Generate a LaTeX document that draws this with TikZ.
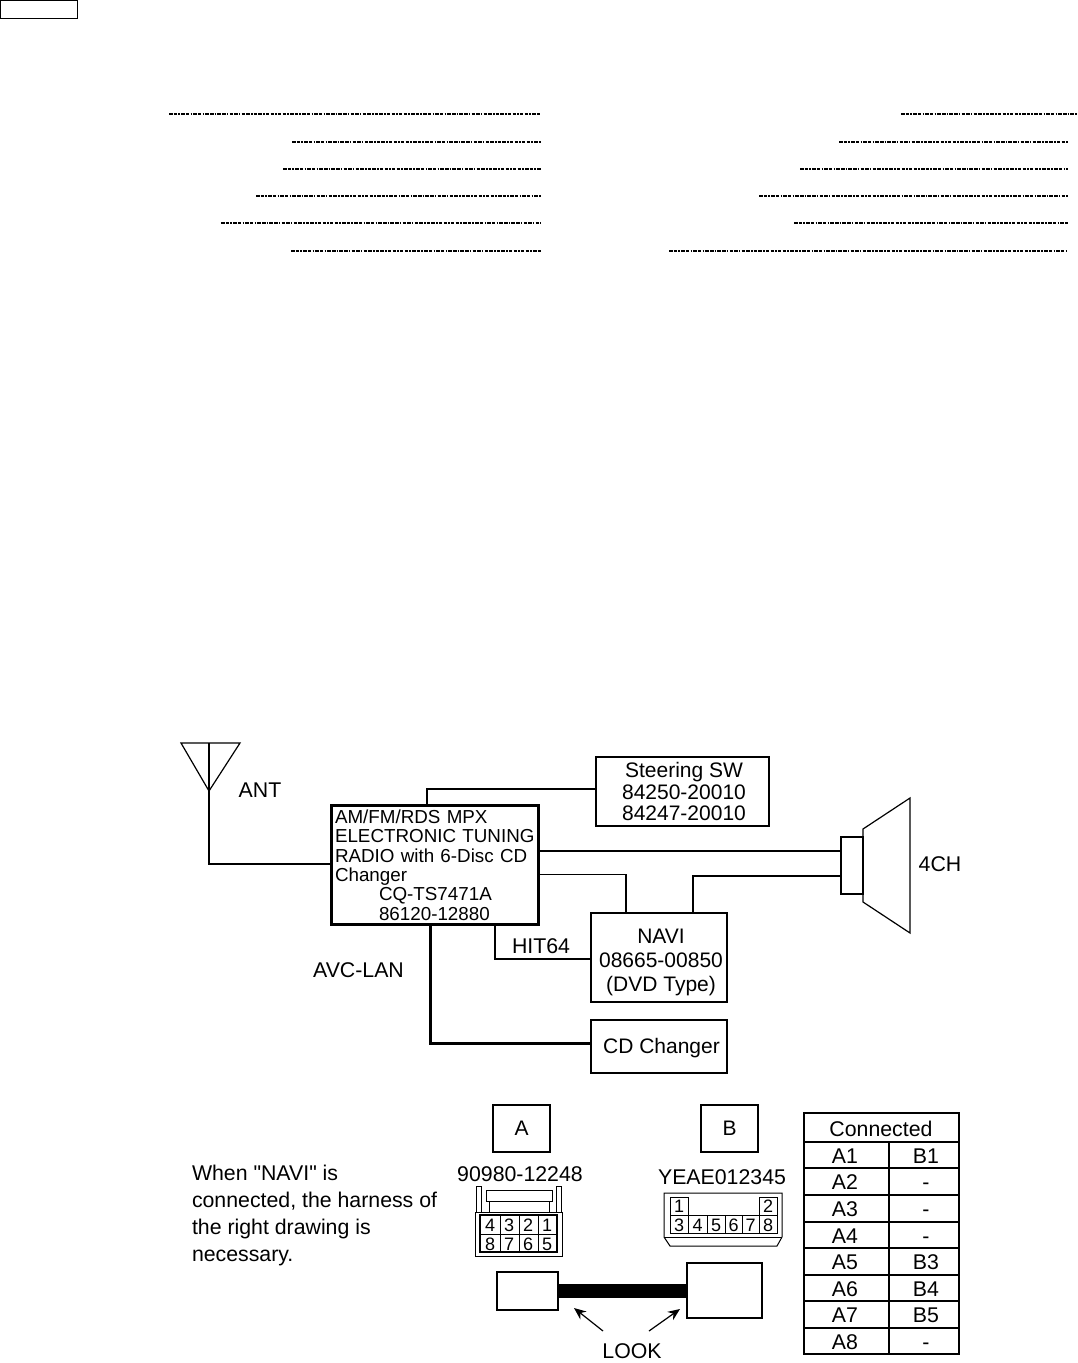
\documentclass[tikz,border=0pt]{standalone}
\usepackage{fontspec}
\setmainfont{Liberation Sans}
\newfontfamily\plainq{Liberation Sans}
\usetikzlibrary{arrows.meta}
\tikzset{
  thinl/.style={line width=1.1pt},
  medl/.style={line width=1.7pt},
  heavyl/.style={line width=3pt},
  boxn/.style={draw,line width=1.2pt,inner sep=0pt,outer sep=0pt,align=center,font=\fontsize{21}{22}\selectfont},
  lab/.style={inner sep=0pt,outer sep=0pt,font=\fontsize{21.3}{22}\selectfont},
  cell/.style={lab,anchor=base},
  pin/.style={inner sep=0pt,outer sep=0pt,anchor=base,font=\fontsize{18}{18}\selectfont},
  leader/.style={line width=1.5pt,dash pattern=on 3.5pt off 1.2pt on 3.5pt off 1.2pt on 1.5pt off 1.2pt},
  lookarrow/.style={line width=1.2pt,-{Stealth[length=12pt,width=10pt]}},
}
\begin{document}
\begin{tikzpicture}[x=1pt,y=-1pt]
\useasboundingbox (0,0) rectangle (1077,1363);
% top box
\node[draw,line width=1.4pt,minimum width=77.3pt,minimum height=18pt,inner sep=0pt,outer sep=0pt] (topbox) at (39,9.5) {};
% leaders
\foreach \n/\a/\b/\y in {l1/169/541/114,l2/292/541/142,l3/283/541/169,l4/256/541/196,l5/221/541/223,l6/291/541/251,
 r1/901/1077/114,r2/839/1068/142,r3/800/1068/169,r4/759/1068/196,r5/794/1068/223,r6/669/1068/251}{
  \coordinate (\n a) at (\a,\y); \coordinate (\n b) at (\b,\y);
  \draw[leader] (\n a) -- (\n b);
}
% boxes
\node[draw,heavyl,inner xsep=3.5pt,inner ysep=0pt,outer sep=0pt,text width=200pt,minimum height=119pt,align=left,font=\fontsize{18.8}{19.4}\selectfont] (radio) at (435,865)
 {AM/FM/RDS MPX\\ELECTRONIC TUNING\\RADIO with 6-Disc CD\\Changer\\\hspace*{44pt}CQ-TS7471A\\\hspace*{44pt}86120-12880};
\node[boxn,minimum width=173pt,minimum height=69pt] (steer) at (682.5,791.5) {\hspace*{3pt}Steering SW\\[-0.5pt]\hspace*{3pt}84250-20010\\[-0.5pt]\hspace*{3pt}84247-20010};
\node[boxn,minimum width=136pt,minimum height=89pt] (navi) at (659,957.5) {\rule{0pt}{24pt}\hspace*{4pt}NAVI\\[2pt]\hspace*{4pt}08665-00850\\[2pt]\hspace*{4pt}(DVD Type)};
\node[boxn,minimum width=136pt,minimum height=53pt] (cdc) at (659,1046.5) {\rule{0pt}{19pt}\hspace*{5pt}CD Changer};
\node[boxn,minimum width=22pt,minimum height=57pt] (spkbox) at (852,865.5) {};
% speaker cone
\coordinate (cone1) at (863,829); \coordinate (cone2) at (910,798); \coordinate (cone3) at (910,933); \coordinate (cone4) at (863,902);
\draw[line width=1.2pt] (cone1) -- (cone2) -- (cone3) -- (cone4) -- cycle;
% antenna
\coordinate (antL) at (181,743); \coordinate (antR) at (240,743); \coordinate (antT) at (209,791); \coordinate (antM) at (209,743); \coordinate (antB) at (209,864);
\draw[line width=1.2pt,line join=miter] (antL) -- (antR) -- (antT) -- cycle;
\draw[thinl] (antM) -- (antB) -- (radio.west |- antB);
% connectors
\coordinate (cs) at (427,789);
\draw[thinl] (radio.north -| cs) -- (cs) -- (steer.west |- cs);
\coordinate (cm) at (0,851);
\draw[medl] (radio.east |- cm) -- (spkbox.west |- cm);
\coordinate (cn) at (626,874.5);
\draw[medl] (radio.east |- cn) -- (cn) -- (navi.north -| cn);
\coordinate (cp) at (693,876);
\draw[medl] (navi.north -| cp) -- (cp) -- (spkbox.west |- cp);
\coordinate (ch) at (495,959);
\draw[thinl] (radio.south -| ch) -- (ch) -- (navi.west |- ch);
\coordinate (cl) at (430,1043);
\draw[heavyl] (radio.south -| cl) -- (cl) -- (cdc.west |- cl);
% labels
\node[lab] (tant) at (260,790.5) {ANT};
\node[lab] (tavc) at (358.5,970) {AVC-LAN};
\node[lab] (thit) at (541,946) {HIT64};
\node[lab] (t4ch) at (940,864.5) {4CH};
\node[lab,anchor=base west] (w1) at (192,1180.5) {When {\plainq"}NAVI{\plainq"} is};
\node[lab,anchor=base west] (w2) at (192,1207.5) {connected, the harness of};
\node[lab,anchor=base west] (w3) at (192,1234.5) {the right drawing is};
\node[lab,anchor=base west] (w4) at (192,1261.5) {necessary.};
% A, B
\node[boxn,minimum width=57pt,minimum height=47pt] (boxA) at (521.5,1128.5) {A};
\node[boxn,minimum width=57pt,minimum height=47pt] (boxB) at (729.5,1128.5) {B};
\node[lab] (pa) at (520,1174.5) {90980-12248};
\node[lab] (pb) at (722,1177) {YEAE012345};
% connector A
\draw[line width=1pt] (476,1212) -- (476,1186) -- (481,1186) -- (481,1212);
\draw[line width=1pt] (556,1212) -- (556,1186) -- (561,1186) -- (561,1212);
\draw[line width=1pt] (486,1190) rectangle (552,1201);
\draw[line width=1pt] (489,1201) -- (489,1212) (549,1201) -- (549,1212);
\draw[line width=1pt] (475,1212) rectangle (562,1256);
\draw[line width=1.2pt] (480,1215) rectangle (557,1252);
\draw[line width=1pt] (480,1234) -- (557,1234) (500,1215) -- (500,1252) (519,1215) -- (519,1252) (538,1215) -- (538,1252);
\foreach \t/\x/\y in {4/490/1231.5,3/509/1231.5,2/528/1231.5,1/547/1231.5,8/490/1250,7/509/1250,6/528/1250,5/547/1250}
  \node[pin] (pA\t) at (\x,\y) {\t};
% connector B
\draw[line width=1pt] (664,1193) -- (782,1193) -- (782,1237) -- (777,1246) -- (670,1246) -- (664,1237) -- cycle;
\draw[line width=1pt] (664,1237) -- (782,1237);
\draw[line width=1pt] (670,1197) rectangle (688,1215);
\draw[line width=1pt] (759,1197) rectangle (777,1215);
\draw[line width=1pt] (670,1215) rectangle (777,1233);
\draw[line width=1pt] (688,1215) -- (688,1233) (707,1215) -- (707,1233) (725,1215) -- (725,1233) (742,1215) -- (742,1233) (759,1215) -- (759,1233);
\foreach \t/\x/\y in {1/679/1212.5,2/768/1212.5,3/679/1231,4/697.5/1231,5/716/1231,6/733.5/1231,7/750.5/1231,8/768/1231}
  \node[pin] (pB\t) at (\x,\y) {\t};
% harness
\node[draw,line width=1.2pt,minimum width=61pt,minimum height=38pt,inner sep=0pt,outer sep=0pt] (hl) at (527.5,1291) {};
\node[draw,line width=1.2pt,minimum width=75pt,minimum height=55pt,inner sep=0pt,outer sep=0pt] (hr) at (724.5,1290.5) {};
\coordinate (hy) at (0,1291);
\draw[line width=14pt] (hl.east |- hy) -- (hr.west |- hy);
\node[lab] (look) at (632,1351) {LOOK};
\coordinate (a1) at (603,1331); \coordinate (a1t) at (574,1308);
\coordinate (a2) at (649,1331); \coordinate (a2t) at (680,1309);
\draw[lookarrow] (a1) -- (a1t);
\draw[lookarrow] (a2) -- (a2t);
% table
\draw[line width=1.4pt] (804,1142) -- (959,1142);
\foreach \y in {1168,1195,1222,1248,1275,1301,1328} \draw[line width=1.4pt] (804,\y) -- (959,\y);
\draw[line width=1.4pt] (889,1142) -- (889,1354);
\node[draw,line width=2.6pt,minimum width=155pt,minimum height=241pt,inner sep=0pt,outer sep=0pt] (tbl) at (881.5,1233.5) {};
\node[lab] (thead) at (881,1128.5) {Connected};
\foreach \i/\a/\b/\y in {1/A1/B1/1163,2/A2/-/1189.5,3/A3/-/1216,4/A4/-/1243,5/A5/B3/1269.5,6/A6/B4/1296,7/A7/B5/1322.5,8/A8/-/1349.5}{
  \node[cell] (ca\i) at (845,\y) {\a};
  \node[cell] (cb\i) at (926,\y) {\b};
}
\end{tikzpicture}
\end{document}
